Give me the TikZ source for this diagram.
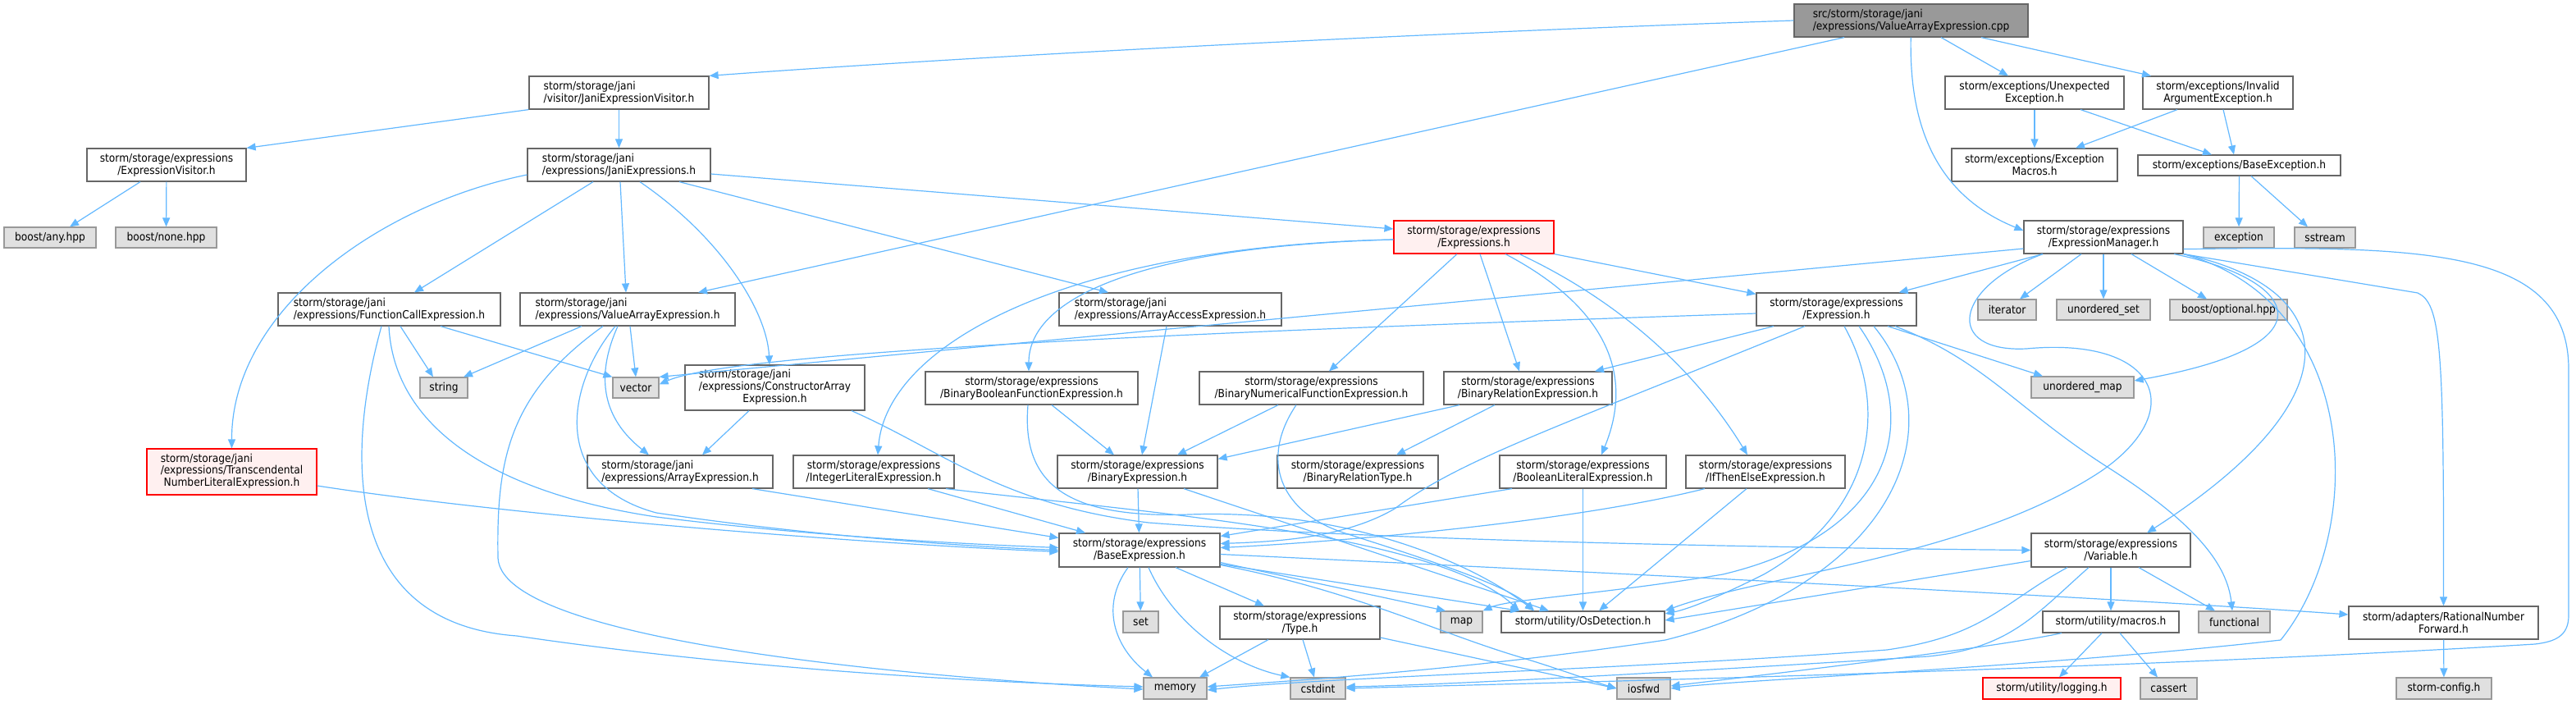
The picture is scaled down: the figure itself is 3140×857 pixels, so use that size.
\documentclass[tikz,border=0pt]{standalone}
\usepackage{fontspec}
\setmainfont{DejaVu Sans Condensed}
\usetikzlibrary{arrows.meta}
\definecolor{EdgeBlue}{HTML}{63B8FF}
\definecolor{BoxLine}{HTML}{666666}
\definecolor{SysFill}{HTML}{E0E0E0}
\definecolor{SysLine}{HTML}{999999}
\definecolor{MissFill}{HTML}{FFF0F0}
\definecolor{RootFill}{HTML}{999999}
% two left lines, last line centred
\newcommand{\threeline}[3]{\begin{tabular}{@{}l@{}}#1\\#2\\\multicolumn{1}{@{}c@{}}{#3}\end{tabular}}

\begin{document}
\begin{tikzpicture}[x=1pt, y=-1pt, >={Triangle[length=11pt,width=9pt]},
  file/.style={draw=BoxLine, fill=white, line width=1.2pt, inner xsep=4pt,
               inner ysep=0pt, minimum height=40pt, align=center,
               font=\fontsize{13.6}{14.7}\selectfont},
  sys/.style={file, draw=SysLine, fill=SysFill, minimum height=25pt},
  miss/.style={file, draw=red, fill=MissFill},
  rootfile/.style={file, fill=RootFill},
  dep/.style={->, draw=EdgeBlue, line width=1.2pt}]
  \useasboundingbox (0,0) rectangle (3140,857);

  % row 1
  \node[rootfile, minimum width=285pt, align=left] (root) at (2329.5,25) {src/storm/storage/jani\\/expressions/ValueArrayExpression.cpp};
  \node[file, minimum width=219pt, align=left] (jevis) at (754.5,113) {storm/storage/jani\\/visitor/JaniExpressionVisitor.h};
  \node[file, minimum width=218pt] (unexp) at (2480,113) {storm/exceptions/Unexpected\\Exception.h};
  \node[file, minimum width=183pt] (invarg) at (2703.5,113) {storm/exceptions/Invalid\\ArgumentException.h};
  % row 2
  \node[file, minimum width=194pt] (exvis) at (203,201) {storm/storage/expressions\\/ExpressionVisitor.h};
  \node[file, minimum width=223pt, align=left] (janiexprs) at (754.5,201) {storm/storage/jani\\/expressions/JaniExpressions.h};
  \node[file, minimum width=202pt] (exmacros) at (2480,201) {storm/exceptions/Exception\\Macros.h};
  \node[file, minimum width=247pt, minimum height=25pt] (baseexc) at (2729.5,201.5) {storm/exceptions/BaseException.h};
  % row 3
  \node[sys, minimum width=112pt] (anyhpp) at (61,289.5) {boost/any.hpp};
  \node[sys, minimum width=123pt] (nonehpp) at (202.5,289.5) {boost/none.hpp};
  \node[miss, minimum width=195pt] (exprs) at (1796.5,289) {storm/storage/expressions\\/Expressions.h};
  \node[file, minimum width=194pt] (exprmgr) at (2564,289) {storm/storage/expressions\\/ExpressionManager.h};
  \node[sys, minimum width=86pt] (exception) at (2729,289.5) {exception};
  \node[sys, minimum width=74pt] (sstream) at (2834,289.5) {sstream};
  % row 4
  \node[file, minimum width=271pt, align=left] (funccall) at (474.5,377) {storm/storage/jani\\/expressions/FunctionCallExpression.h};
  \node[file, minimum width=262pt, align=left] (valarr) at (765,377) {storm/storage/jani\\/expressions/ValueArrayExpression.h};
  \node[file, minimum width=271pt, align=left] (arracc) at (1426.5,377) {storm/storage/jani\\/expressions/ArrayAccessExpression.h};
  \node[file, minimum width=195pt] (expr) at (2238.5,377) {storm/storage/expressions\\/Expression.h};
  \node[sys, minimum width=71pt] (iterator) at (2446.5,377.5) {iterator};
  \node[sys, minimum width=114pt] (uset) at (2564,377.5) {unordered\_set};
  \node[sys, minimum width=143pt] (optional) at (2716.5,377.5) {boost/optional.hpp};
  % row 5
  \node[sys, minimum width=58pt] (string) at (541,472.5) {string};
  \node[sys, minimum width=56pt] (vector) at (775,472.5) {vector};
  \node[file, minimum width=219pt, minimum height=55pt] (constarr) at (944.5,472.5) {\threeline{storm/storage/jani}{/expressions/ConstructorArray}{Expression.h}};
  \node[file, minimum width=259pt] (binbool) at (1257.5,473) {storm/storage/expressions\\/BinaryBooleanFunctionExpression.h};
  \node[file, minimum width=273pt] (binnum) at (1598.5,473) {storm/storage/expressions\\/BinaryNumericalFunctionExpression.h};
  \node[file, minimum width=205pt] (binrel) at (1862.5,473) {storm/storage/expressions\\/BinaryRelationExpression.h};
  \node[sys, minimum width=125pt, minimum height=26pt] (umap) at (2538.5,472) {unordered\_map};
  % row 6
  \node[miss, minimum width=207pt, minimum height=56pt] (transc) at (282.5,575) {\threeline{storm/storage/jani}{/expressions/Transcendental}{NumberLiteralExpression.h}};
  \node[file, minimum width=226pt, align=left] (arrexpr) at (829,575) {storm/storage/jani\\/expressions/ArrayExpression.h};
  \node[file, minimum width=196pt] (intlit) at (1065,575) {storm/storage/expressions\\/IntegerLiteralExpression.h};
  \node[file, minimum width=195pt] (binexpr) at (1386.5,575) {storm/storage/expressions\\/BinaryExpression.h};
  \node[file, minimum width=196pt] (binreltype) at (1655,575) {storm/storage/expressions\\/BinaryRelationType.h};
  \node[file, minimum width=203pt] (boollit) at (1929.5,575) {storm/storage/expressions\\/BooleanLiteralExpression.h};
  \node[file, minimum width=194pt] (ite) at (2152,575) {storm/storage/expressions\\/IfThenElseExpression.h};
  % row 7
  \node[file, minimum width=196pt, minimum height=41pt] (baseexpr) at (1389,670.5) {storm/storage/expressions\\/BaseExpression.h};
  \node[file, minimum width=194pt, minimum height=41pt] (variable) at (2573,670.5) {storm/storage/expressions\\/Variable.h};
  % row 8
  \node[sys, minimum width=43pt, minimum height=26pt] (set) at (1390.5,758) {set};
  \node[file, minimum width=195pt] (typeh) at (1584.5,759) {storm/storage/expressions\\/Type.h};
  \node[sys, minimum width=51pt, minimum height=26pt] (map) at (1781.5,758) {map};
  \node[file, minimum width=199pt, minimum height=26pt] (osdet) at (1929.5,758) {storm/utility/OsDetection.h};
  \node[file, minimum width=166pt, minimum height=26pt] (macros) at (2573,758) {storm/utility/macros.h};
  \node[sys, minimum width=87pt, minimum height=26pt] (functional) at (2723.5,758) {functional};
  \node[file, minimum width=231pt] (ratnum) at (2978.5,759) {storm/adapters/RationalNumber\\Forward.h};
  % row 9
  \node[sys, minimum width=77pt, minimum height=26pt] (memory) at (1432.5,839) {memory};
  \node[sys, minimum width=67pt, minimum height=26pt] (cstdint) at (1606.5,839) {cstdint};
  \node[sys, minimum width=65pt, minimum height=26pt] (iosfwd) at (2003.5,839) {iosfwd};
  \node[miss, minimum width=168pt, minimum height=26pt] (logging) at (2501,839) {storm/utility/logging.h};
  \node[sys, minimum width=69pt, minimum height=26pt] (cassert) at (2643.5,839) {cassert};
  \node[sys, minimum width=116pt, minimum height=26pt] (stormcfg) at (2979,839) {storm-config.h};

  % source file
  \draw[dep] (root.west) .. controls (1600,45) and (1100,75) .. (jevis.north east);
  \draw[dep] (2248,0 |- root.south) -- (851,0 |- valarr.north);
  \draw[dep] (root) .. controls (2328,120) and (2340,230) .. ([yshift=8pt]exprmgr.west);
  \draw[dep] (2366,0 |- root.south) -- (2448,0 |- unexp.north);
  \draw[dep] (2415,0 |- root.south) -- (2622,0 |- invarg.north);

  % visitor
  \draw[dep] (jevis.south west) -- (exvis.north east);
  \draw[dep] (jevis) -- (janiexprs);
  \draw[dep] (171,0 |- exvis.south) -- (85,0 |- anyhpp.north);
  \draw[dep] (exvis) -- (nonehpp);

  % JaniExpressions.h
  \draw[dep] ([yshift=-12pt]janiexprs.west) .. controls (460,250) and (282,380) .. (transc.north);
  \draw[dep] (723,0 |- janiexprs.south) -- (505,0 |- funccall.north);
  \draw[dep] (756,0 |- janiexprs.south) -- (763,0 |- valarr.north);
  \draw[dep] (780,0 |- janiexprs.south) .. controls (880,290) and (935,380) .. (938,0 |- constarr.north);
  \draw[dep] (828,0 |- janiexprs.south) -- (1351,0 |- arracc.north);
  \draw[dep] ([yshift=-11pt]janiexprs.east) -- ([yshift=10pt]exprs.west);

  % exceptions
  \draw[dep] (unexp) -- (exmacros);
  \draw[dep] (2536,0 |- unexp.south) -- (2696,0 |- baseexc.north);
  \draw[dep] (2654,0 |- invarg.south) -- (2530,0 |- exmacros.north);
  \draw[dep] (2710,0 |- invarg.south) -- (2723,0 |- baseexc.north);
  \draw[dep] (baseexc) -- (exception);
  \draw[dep] (2744,0 |- baseexc.south) -- (2813,0 |- sstream.north);

  % FunctionCallExpression.h
  \draw[dep] (488,0 |- funccall.south) -- (528,0 |- string.north);
  \draw[dep] (537,0 |- funccall.south) -- (vector.north west);
  \draw[dep] (465,0 |- funccall.south) .. controls (420,560) and (420,760) .. (630,775) .. controls (900,815) and (1200,832) .. ([yshift=2pt]memory.west);
  \draw[dep] (474,0 |- funccall.south) .. controls (480,520) and (600,600) .. (800,630) .. controls (1000,655) and (1200,664) .. ([yshift=3pt]baseexpr.west);

  % ValueArrayExpression.h
  \draw[dep] (709,0 |- valarr.south) -- (565,0 |- string.north);
  \draw[dep] (735,0 |- valarr.south) .. controls (620,480) and (605,560) .. (607,680) .. controls (612,790) and (1200,830) .. ([yshift=-1pt]memory.west);
  \draw[dep] (750,0 |- valarr.south) .. controls (690,470) and (670,590) .. (800,625) .. controls (1000,655) and (1200,667) .. (baseexpr.west);
  \draw[dep] (753,0 |- valarr.south) .. controls (725,460) and (735,510) .. (791,0 |- arrexpr.north);
  \draw[dep] (768,0 |- valarr.south) -- (775,0 |- vector.north);

  % ConstructorArrayExpression.h
  \draw[dep] (913,0 |- constarr.south) -- (856,0 |- arrexpr.north);
  \draw[dep] (1038,0 |- constarr.south) .. controls (1150,550) and (1220,615) .. (1400,637) .. controls (1700,660) and (2200,668) .. (variable.west);

  % into BaseExpression.h
  \draw[dep] ([yshift=-17pt]transc.east) .. controls (600,625) and (1000,660) .. ([yshift=-2pt]baseexpr.west);
  \draw[dep] (917,0 |- arrexpr.south) -- ([yshift=15pt]baseexpr.west);
  \draw[dep] (1131,0 |- intlit.south) -- (1323,0 |- baseexpr.north);
  \draw[dep] (1153,0 |- intlit.south) .. controls (1400,625) and (1750,650) .. (1852,0 |- osdet.north);
  \draw[dep] (1422,0 |- arracc.south) -- (1392,0 |- binexpr.north);

  % binary expressions
  \draw[dep] (1282,0 |- binbool.south) -- (1358,0 |- binexpr.north);
  \draw[dep] (1253,0 |- binbool.south) .. controls (1245,590) and (1300,632) .. (1450,627) .. controls (1650,620) and (1800,690) .. (1870,0 |- osdet.north);
  \draw[dep] (1558,0 |- binnum.south) -- (1435,0 |- binexpr.north);
  \draw[dep] (1580,0 |- binnum.south) .. controls (1535,560) and (1560,625) .. (1640,650) .. controls (1750,685) and (1840,715) .. (1870,0 |- osdet.north);
  \draw[dep] (1779,0 |- binrel.south) -- ([yshift=-5pt]binexpr.north east);
  \draw[dep] (1822,0 |- binrel.south) -- (1702,0 |- binreltype.north);
  \draw[dep] (binexpr) -- (baseexpr);
  \draw[dep] (1443,0 |- binexpr.south) -- (1888,0 |- osdet.north);

  % Expressions.h
  \draw[dep] ([yshift=-3pt]exprs.west) .. controls (1300,300) and (1080,420) .. (1070,0 |- intlit.north);
  \draw[dep] ([yshift=-3pt]exprs.west) .. controls (1400,300) and (1254,360) .. (1254,0 |- binbool.north);
  \draw[dep] (1776,0 |- exprs.south) -- (1620,0 |- binnum.north);
  \draw[dep] (1804,0 |- exprs.south) -- (1852,0 |- binrel.north);
  \draw[dep] (1835,0 |- exprs.south) .. controls (1950,370) and (1995,450) .. (1952,0 |- boollit.north);
  \draw[dep] (1852,0 |- exprs.south) .. controls (1960,360) and (2060,440) .. (2130,0 |- ite.north);
  \draw[dep] (exprs.south east) -- ([yshift=-2pt]expr.north west);

  % Expression.h
  \draw[dep] ([yshift=-5pt]expr.west) .. controls (1600,400) and (900,425) .. ([yshift=4pt]vector.east);
  \draw[dep] (2162,0 |- expr.south) -- (1944,0 |- binrel.north);
  \draw[dep] (2200,0 |- expr.south) .. controls (1900,520) and (1780,560) .. (1700,620) .. controls (1640,655) and (1560,660) .. ([yshift=8pt]baseexpr.east);
  \draw[dep] (2248,0 |- expr.south) .. controls (2300,490) and (2290,620) .. (2150,700) .. controls (2100,725) and (2060,742) .. ([yshift=10pt]osdet.east);
  \draw[dep] (2266,0 |- expr.south) .. controls (2345,510) and (2310,650) .. (2100,700) .. controls (1950,725) and (1840,730) .. (map.north east);
  \draw[dep] (2284,0 |- expr.south) .. controls (2385,520) and (2310,710) .. (2030,780) .. controls (1800,815) and (1600,828) .. ([yshift=2pt]memory.east);
  \draw[dep] (2301,0 |- expr.south) -- (2490,0 |- umap.north);
  \draw[dep] (2310,0 |- expr.south) .. controls (2420,440) and (2460,500) .. (2570,570) .. controls (2680,640) and (2715,690) .. (2721,0 |- functional.north);

  % ExpressionManager.h
  \draw[dep] ([yshift=-14pt]exprmgr.west) -- (vector.north east);
  \draw[dep] (2490,0 |- exprmgr.south) -- ([xshift=-22pt]expr.north east);
  \draw[dep] (2537,0 |- exprmgr.south) -- (2462,0 |- iterator.north);
  \draw[dep] (exprmgr) -- (uset);
  \draw[dep] (2598,0 |- exprmgr.south) -- (2690,0 |- optional.north);
  \draw[dep] (2650,0 |- exprmgr.south) .. controls (2800,340) and (2850,420) .. ([yshift=8pt]umap.east);
  \draw[dep] (exprmgr.south east) .. controls (2850,350) and (2880,480) .. (2617,0 |- variable.north);
  \draw[dep] (2490,0 |- exprmgr.south) .. controls (2380,350) and (2370,430) .. (2470,425) .. controls (2630,410) and (2670,500) .. (2560,575) .. controls (2400,680) and (2150,700) .. (osdet.north east);
  \draw[dep] (exprmgr.south east) .. controls (2880,370) and (2885,650) .. (2780,780) .. controls (2500,812) and (2100,830) .. (iosfwd.east);
  \draw[dep] (exprmgr.south east) -- (2947,357) .. controls (2975,370) and (2979,420) .. (ratnum.north);
  \draw[dep] ([yshift=6pt]exprmgr.south east) .. controls (2950,300) and (3131,300) .. (3131,450) -- (3131,750) .. controls (3131,775) and (3115,782) .. (3090,785) .. controls (2600,815) and (1900,832) .. (cstdint.east);

  % Variable.h
  \draw[dep] ([yshift=-13pt]variable.west) -- ([yshift=2pt]osdet.east);
  \draw[dep] (2520,0 |- variable.south) .. controls (2440,735) and (2420,775) .. (2300,792) .. controls (2000,815) and (1600,826) .. ([yshift=-2pt]memory.east);
  \draw[dep] (2546,0 |- variable.south) .. controls (2480,750) and (2450,790) .. (2350,800) .. controls (2000,822) and (1750,835) .. ([yshift=2pt]cstdint.east);
  \draw[dep] (variable) -- (macros);
  \draw[dep] (2607,0 |- variable.south) -- (2700,0 |- functional.north);

  % macros.h
  \draw[dep] (2562,0 |- macros.south) -- (2510,0 |- logging.north);
  \draw[dep] (2584,0 |- macros.south) -- (2630,0 |- cassert.north);
  \draw[dep] (2513,0 |- macros.south) .. controls (2450,785) and (2300,805) .. ([yshift=3pt]iosfwd.east);
  \draw[dep] (ratnum) -- (stormcfg);

  % BaseExpression.h
  \draw[dep] (1375,0 |- baseexpr.south) .. controls (1340,740) and (1360,790) .. (1405,0 |- memory.north);
  \draw[dep] (baseexpr) -- (set);
  \draw[dep] (1400,0 |- baseexpr.south) .. controls (1430,760) and (1500,810) .. (cstdint.north west);
  \draw[dep] (1433,0 |- baseexpr.south) -- (1541,0 |- typeh.north);
  \draw[dep] ([yshift=-15pt]baseexpr.east) -- (1762,0 |- map.north);
  \draw[dep] ([yshift=-17pt]baseexpr.east) -- (1852,0 |- osdet.north);
  \draw[dep] ([yshift=-18pt]baseexpr.east) .. controls (1650,720) and (1750,770) .. (1850,800) .. controls (1900,815) and (1940,830) .. (iosfwd.west);
  \draw[dep] ([yshift=-5pt]baseexpr.east) .. controls (2000,700) and (2600,730) .. ([yshift=10pt]ratnum.west);

  % Type.h
  \draw[dep] (1546,0 |- typeh.south) -- (1462,0 |- memory.north);
  \draw[dep] (1588,0 |- typeh.south) -- (1602,0 |- cstdint.north);
  \draw[dep] ([yshift=-18pt]typeh.east) -- (iosfwd.west);

  % literals
  \draw[dep] (1843,0 |- boollit.south) -- ([yshift=17pt]baseexpr.east);
  \draw[dep] (boollit) -- (osdet);
  \draw[dep] (2078,0 |- ite.south) .. controls (1900,640) and (1600,662) .. ([yshift=3pt]baseexpr.east);
  \draw[dep] (2129,0 |- ite.south) -- (1949,0 |- osdet.north);
\end{tikzpicture}
\end{document}
